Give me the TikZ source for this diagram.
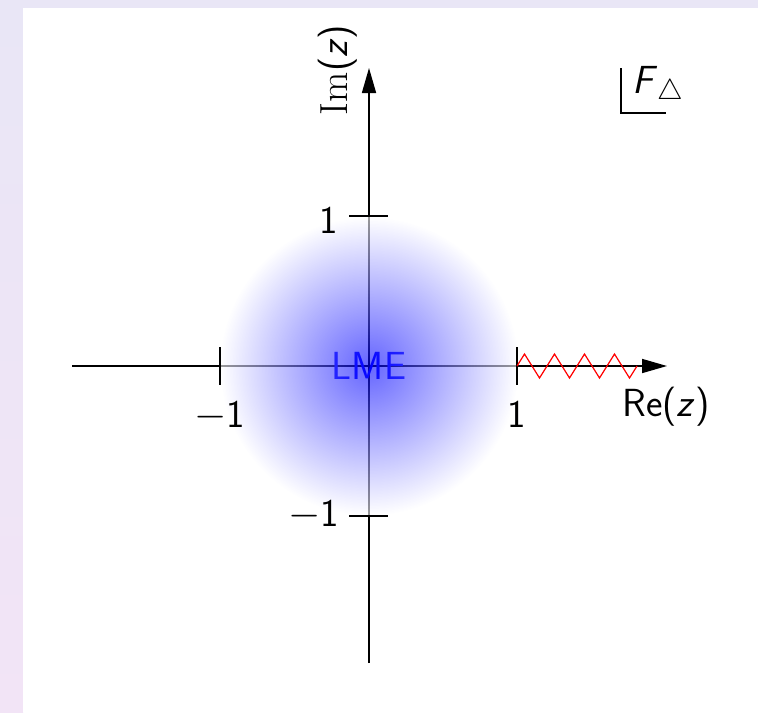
\documentclass[tikz,border=0pt]{standalone}
\usetikzlibrary{arrows.meta}
\pgfdeclareradialshading{lmeball}{\pgfpoint{0bp}{0bp}}{color(0bp)=(blue); color(25bp)=(white); color(50bp)=(white)}
\definecolor{bgtop}{RGB}{233,230,246}
\definecolor{bgbot}{RGB}{242,228,246}
\begin{document}
\begin{tikzpicture}[x=0.5pt,y=-0.5pt,
  axis/.style={line width=0.8pt, black},
  tickline/.style={line width=0.65pt, black},
  lbl/.style={font=\sffamily\fontsize{19.6}{23}\selectfont, inner sep=0pt, anchor=base},
  tipped/.style={-{Triangle[length=12.5pt,width=7pt]}}]
\useasboundingbox (0,0) rectangle (758,712);
\fill[bgtop] (0,0) rectangle (758,8);
\shade[top color=bgtop, bottom color=bgbot] (0,8) rectangle (23,712);
\fill[white] (23,8) rectangle (758,712);
% axes
\coordinate (O) at (369,366);
\coordinate (xl) at (72,366);
\coordinate (xr) at (667,366);
\coordinate (yb) at (369,663);
\coordinate (yt) at (369,68);
\draw[axis,tipped] (xl) -- (xr);
\draw[axis,tipped] (yb) -- (yt);
\node[lbl, text=blue] (lme) at (369,379) {LME};
% shaded disc
\shade[shading=lmeball, fill opacity=0.6] (O) circle [radius=149];
% ticks
\coordinate (txa1) at (220,347); \coordinate (txb1) at (220,385);
\coordinate (txa2) at (517,347); \coordinate (txb2) at (517,385);
\coordinate (tya1) at (349,216); \coordinate (tyb1) at (388,216);
\coordinate (tya2) at (349,516); \coordinate (tyb2) at (388,516);
\draw[tickline] (txa1) -- (txb1);
\draw[tickline] (txa2) -- (txb2);
\draw[tickline] (tya1) -- (tyb1);
\draw[tickline] (tya2) -- (tyb2);
% labels
\node[lbl] (lxm1) at (220,427) {$-$1};
\node[lbl] (lx1) at (517,427) {1};
\node[lbl] (ly1) at (328.5,233) {1};
\node[lbl] (lym1) at (314,526) {$-$1};
\node[lbl] (lre) at (666,416) {Re(\textit{z})};
\node[lbl, rotate=90] (lim) at (347,70) {{\rmfamily Im}(\textit{z})};
% zigzag cut
\draw[red, line width=0.6pt] (517,366) -- (524.5,354) -- (539.5,378) -- (554.5,354) -- (569.5,378)
  -- (584.5,354) -- (599.5,378) -- (614.5,354) -- (629.5,378) -- (637,366);
% F triangle marker
\coordinate (fa) at (621,68);
\coordinate (fb) at (666,113);
\draw[line width=0.6pt] (fa) |- (fb);
\node[lbl, anchor=base west] (ftri) at (632,93) {\textit{F}$_\triangle$};
\end{tikzpicture}
\end{document}
